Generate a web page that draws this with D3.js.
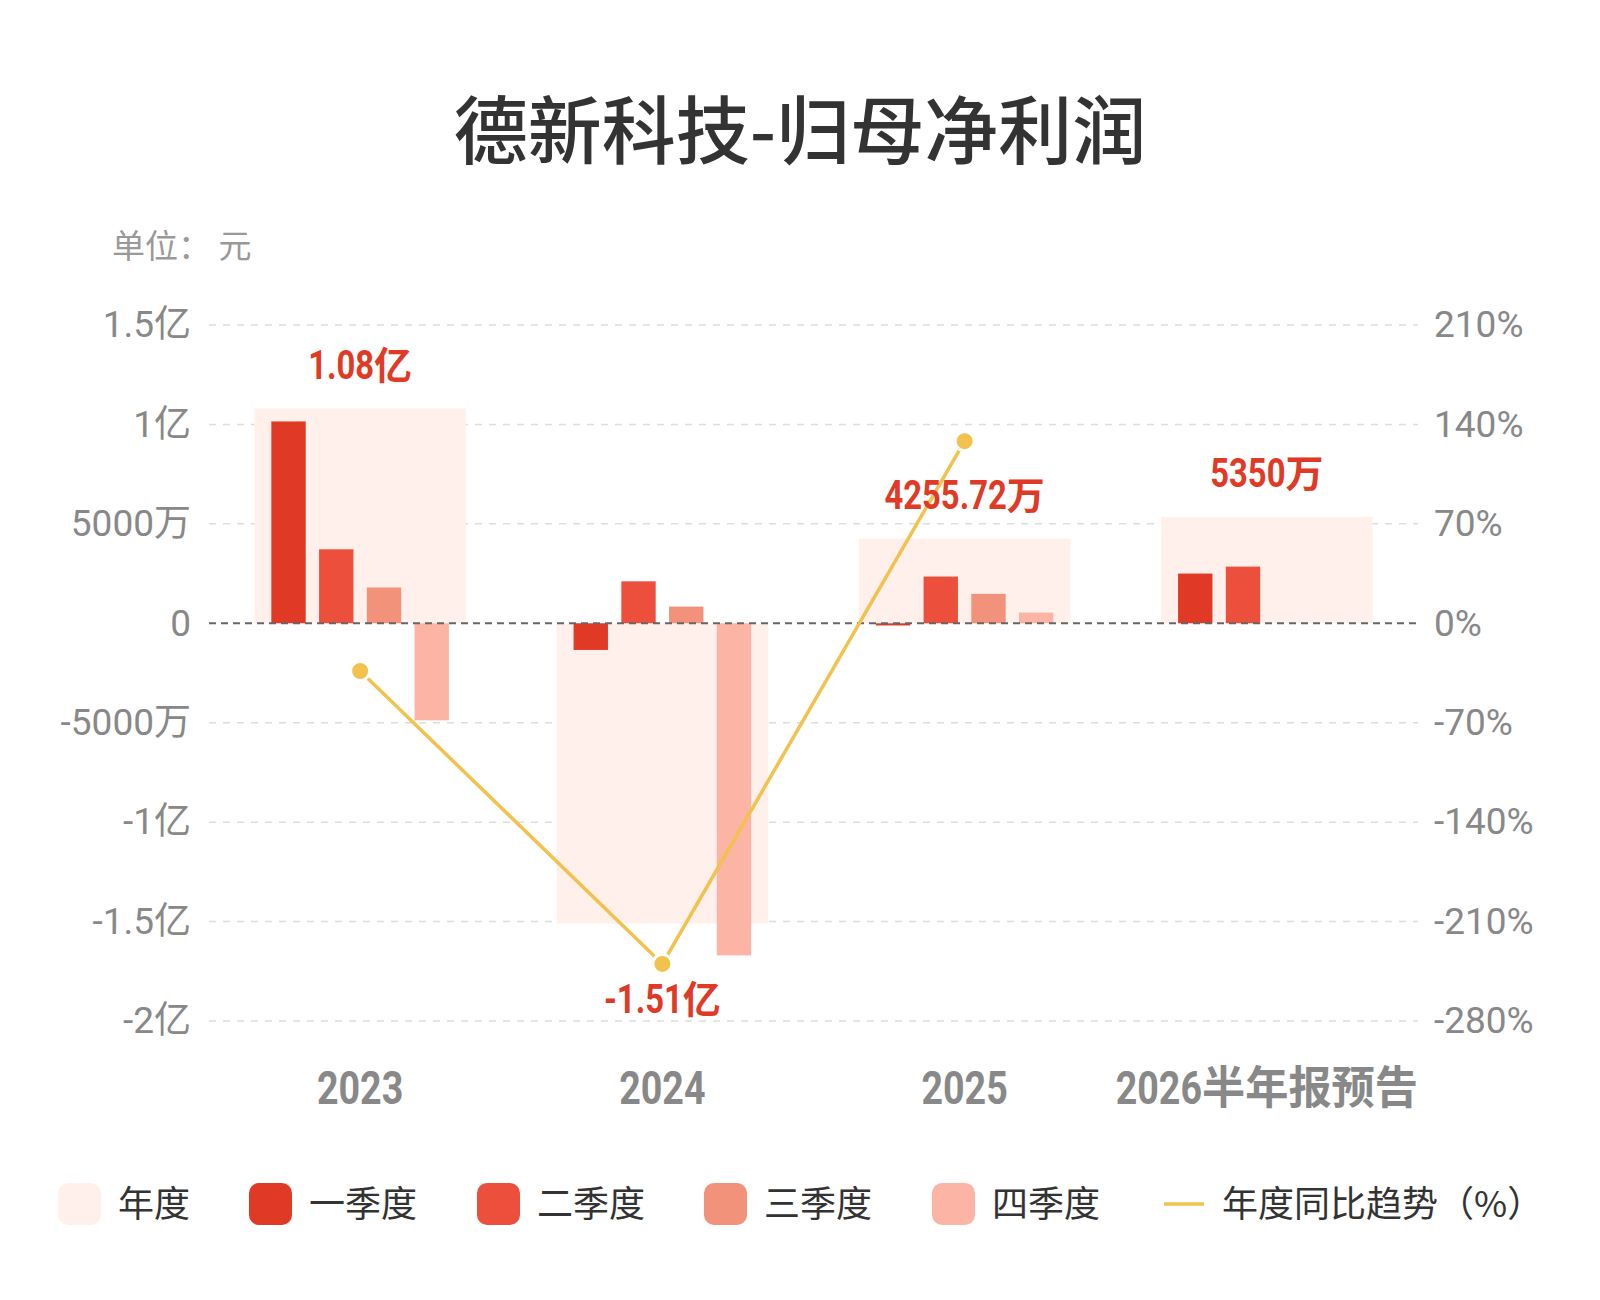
<!DOCTYPE html>
<html>
<head>
<meta charset="utf-8">
<script src="https://cdn.jsdelivr.net/npm/d3@7"></script>
<style>
  body { margin: 0; background: #fff; }
  svg { display: block; }
</style>
</head>
<body>
<script>
const width = 1600;
const height = 1300;

// data, in 万元
const years = ["2023", "2024", "2025", "2026半年报预告"];
const annual = [10800, -15100, 4255.72, 5350];
const annualLabels = ["1.08亿", "-1.51亿", "4255.72万", "5350万"];
const q1 = [10150, -1340, -110, 2500];
const q2 = [3720, 2110, 2350, 2850];
const q3 = [1800, 840, 1480, null];
const q4 = [-4880, -16700, 540, null];
const yoy = [-33.6, -239.8, 128.2, null];
const leftTicks = [15000, 10000, 5000, 0, -5000, -10000, -15000, -20000];
const leftTickLabels = ["1.5亿", "1亿", "5000万", "0", "-5000万", "-1亿", "-1.5亿", "-2亿"];
const rightTicks = [210, 140, 70, 0, -70, -140, -210, -280];

const quarterNames = ["一季度", "二季度", "三季度", "四季度"];
const quarterColors = ["#e03a26", "#ec4f3c", "#f3927a", "#fcb4a4"];
const bgColor = "#fff0eb";
const lineColor = "#f2c14e";
const labelColor = "#e03a26";
const numFont = "Roboto, 'Noto Sans CJK SC', sans-serif";
const cjkFont = "'Noto Sans CJK SC', 'Noto Sans', sans-serif";

const svg = d3.select("body")
  .append("svg")
  .attr("width", width)
  .attr("height", height);

const plotLeft = 209, plotRight = 1418;

const x = d3.scaleBand()
  .domain(years)
  .range([plotLeft, plotRight]);

const y = d3.scaleLinear()
  .domain([-20000, 15000])
  .range([1021, 325]);

const y2 = d3.scaleLinear()
  .domain([-280, 210])
  .range([1021, 325]);

// number part drawn narrow (condensed look), unit part normal, whole thing centred on cx
function condensedLabel(g, cx, cy, str, o) {
  const m = str.match(/^([-0-9.]+)(.*)$/);
  const num = m ? m[1] : "";
  const unit = m ? m[2] : str;
  const grp = g.append("g");
  const t1 = grp.append("text")
    .attr("font-family", numFont)
    .attr("font-size", o.numSize)
    .attr("font-weight", "bold")
    .attr("fill", o.color)
    .text(num);
  const w1 = t1.node().getComputedTextLength() * o.squeeze;
  const t2 = grp.append("text")
    .attr("font-family", cjkFont)
    .attr("font-size", o.unitSize)
    .attr("font-weight", "bold")
    .attr("fill", o.color)
    .text(unit);
  const w2 = unit ? t2.node().getComputedTextLength() * o.unitSqueeze : 0;
  const x0 = cx - (w1 + w2) / 2;
  t1.attr("transform", `translate(${x0},${cy}) scale(${o.squeeze},1)`);
  t2.attr("transform", `translate(${x0 + w1},${cy}) scale(${o.unitSqueeze},1)`);
}

// title
svg.append("text")
  .attr("x", 800)
  .attr("y", 158)
  .attr("text-anchor", "middle")
  .attr("font-family", cjkFont)
  .attr("font-size", 74)
  .attr("font-weight", 500)
  .attr("fill", "#333")
  .text("德新科技-归母净利润");

svg.append("text")
  .attr("x", 112)
  .attr("y", 258)
  .attr("font-family", cjkFont)
  .attr("font-size", 33)
  .attr("fill", "#999")
  .attr("xml:space", "preserve")
  .text("单位： 元");

// grid lines
svg.append("g")
  .selectAll("line")
  .data(leftTicks.filter(d => d !== 0))
  .enter()
  .append("line")
  .attr("x1", plotLeft)
  .attr("x2", plotRight)
  .attr("y1", d => y(d))
  .attr("y2", d => y(d))
  .attr("stroke", "#dddddd")
  .attr("stroke-width", 1.5)
  .attr("stroke-dasharray", "7,7");

// left axis
const leftAxis = d3.axisLeft(y)
  .tickValues(leftTicks)
  .tickFormat((d, i) => leftTickLabels[i])
  .tickSize(0)
  .tickPadding(18);

const gl = svg.append("g")
  .attr("transform", `translate(${plotLeft},0)`)
  .call(leftAxis);
gl.select(".domain").remove();
gl.selectAll("text")
  .attr("font-family", numFont)
  .attr("font-size", 37)
  .attr("fill", "#888");

// right axis
const rightAxis = d3.axisRight(y2)
  .tickValues(rightTicks)
  .tickFormat(d => d + "%")
  .tickSize(0)
  .tickPadding(16);

const gr = svg.append("g")
  .attr("transform", `translate(${plotRight},0)`)
  .call(rightAxis);
gr.select(".domain").remove();
gr.selectAll("text")
  .attr("font-family", numFont)
  .attr("font-size", 37)
  .attr("fill", "#888");

// annual background rects
const bgW = x.bandwidth() * 0.7;
svg.append("g")
  .selectAll("rect")
  .data(annual)
  .enter()
  .append("rect")
  .attr("x", (d, i) => x(years[i]) + (x.bandwidth() - bgW) / 2)
  .attr("width", bgW)
  .attr("y", d => y(Math.max(0, d)))
  .attr("height", d => Math.abs(y(d) - y(0)))
  .attr("fill", bgColor);

// quarter bars
const quarters = [q1, q2, q3, q4];
const xq = d3.scaleBand()
  .domain(d3.range(4))
  .range([(x.bandwidth() - bgW) / 2 + 17, (x.bandwidth() + bgW) / 2 - 17])
  .paddingInner(0.28);

quarters.forEach((series, qi) => {
  svg.append("g")
    .selectAll("rect")
    .data(series.map((v, i) => ({ v, i })).filter(d => d.v !== null))
    .enter()
    .append("rect")
    .attr("x", d => x(years[d.i]) + xq(qi))
    .attr("width", xq.bandwidth())
    .attr("y", d => y(Math.max(0, d.v)))
    .attr("height", d => Math.max(1.5, Math.abs(y(d.v) - y(0))))
    .attr("fill", quarterColors[qi]);
});

// zero line
svg.append("line")
  .attr("x1", plotLeft)
  .attr("x2", plotRight)
  .attr("y1", y(0))
  .attr("y2", y(0))
  .attr("stroke", "#666")
  .attr("stroke-width", 2)
  .attr("stroke-dasharray", "7,5");

// x axis labels
const gx = svg.append("g");
years.forEach(yr => {
  condensedLabel(gx, x(yr) + x.bandwidth() / 2, 1104, yr, {
    numSize: 47, unitSize: 45, squeeze: 0.8, unitSqueeze: 0.96, color: "#888"
  });
});

// yoy line
const linePts = yoy.map((v, i) => ({ v, i })).filter(d => d.v !== null);
const line = d3.line()
  .x(d => x(years[d.i]) + x.bandwidth() / 2)
  .y(d => y2(d.v));

svg.append("path")
  .datum(linePts)
  .attr("d", line)
  .attr("fill", "none")
  .attr("stroke", lineColor)
  .attr("stroke-width", 3.5);

svg.append("g")
  .selectAll("circle")
  .data(linePts)
  .enter()
  .append("circle")
  .attr("cx", d => x(years[d.i]) + x.bandwidth() / 2)
  .attr("cy", d => y2(d.v))
  .attr("r", 9.5)
  .attr("fill", lineColor)
  .attr("stroke", "#fff")
  .attr("stroke-width", 3);

// annual value labels
const gLabels = svg.append("g");
annual.forEach((d, i) => {
  const vals = [d, q1[i], q2[i], q3[i], q4[i]].filter(v => v !== null);
  const ly = d >= 0 ? y(d3.max(vals)) - 30 : y(d3.min(vals)) + 58;
  condensedLabel(gLabels, x(years[i]) + x.bandwidth() / 2, ly, annualLabels[i], {
    numSize: 40, unitSize: 38, squeeze: 0.82, unitSqueeze: 1, color: labelColor
  });
});

// legend
const legendItems = [
  { name: "年度", color: bgColor, x: 58 },
  { name: quarterNames[0], color: quarterColors[0], x: 249 },
  { name: quarterNames[1], color: quarterColors[1], x: 477 },
  { name: quarterNames[2], color: quarterColors[2], x: 704 },
  { name: quarterNames[3], color: quarterColors[3], x: 932 }
];
const legend = svg.append("g").attr("transform", "translate(0,1204)");
legendItems.forEach(d => {
  legend.append("rect")
    .attr("x", d.x)
    .attr("y", -21)
    .attr("width", 43)
    .attr("height", 42)
    .attr("rx", 10)
    .attr("fill", d.color);
  legend.append("text")
    .attr("x", d.x + 60)
    .attr("y", 13)
    .attr("font-family", cjkFont)
    .attr("font-size", 36)
    .attr("fill", "#333")
    .text(d.name);
});
legend.append("line")
  .attr("x1", 1164)
  .attr("x2", 1204)
  .attr("y1", 0)
  .attr("y2", 0)
  .attr("stroke", lineColor)
  .attr("stroke-width", 3.5);
legend.append("text")
  .attr("x", 1222)
  .attr("y", 13)
  .attr("font-family", cjkFont)
  .attr("font-size", 36)
  .attr("fill", "#333")
  .text("年度同比趋势（%）");
</script>
</body>
</html>
